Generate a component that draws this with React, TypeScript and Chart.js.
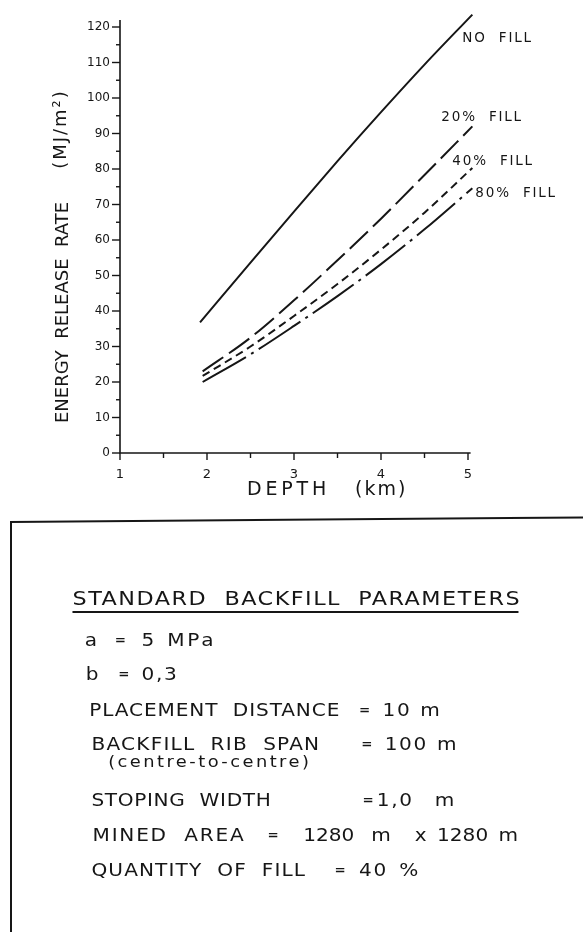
import { useEffect, useRef } from "react";
import { Chart, registerables } from "chart.js";

Chart.register(...registerables);

const INK = "#161616";
const FONT = "'DejaVu Sans', 'Liberation Sans', sans-serif";

// Depth (km) sampled along each curve
const depthNoFill = [1.92, 2.5, 3, 3.5, 4, 4.5, 5.05];
const depthFill = [1.95, 2.5, 3, 3.5, 4, 4.5, 5.05];

// Energy release rate (MJ/m²)
const noFill = [36.8, 53.6, 68, 82.2, 96, 109.4, 123.5];
const fill20 = [23, 32.5, 43, 54.3, 66, 78.3, 92];
const fill40 = [21.7, 30, 38.6, 47.6, 57.3, 67.7, 80.3];
const fill80 = [20, 27.8, 35.8, 44.2, 53.2, 63, 74.6];

const seriesNames = ["NO  FILL", "20%  FILL", "40%  FILL", "80%  FILL"];

const xTickLabels = ["1", "2", "3", "4", "5"];
const yTickStep = 10;

const toPoints = (xs: number[], ys: number[]) => xs.map((x, i) => ({ x, y: ys[i] }));

// where each curve's caption sits relative to its last point
const captionOffsets = [
  { dx: -10, dy: 24 },
  { dx: -31, dy: -9 },
  { dx: -20, dy: -6 },
  { dx: 3, dy: 5 },
];

const decorations = {
  id: "decorations",
  afterDraw(chart: any) {
    const { ctx, scales } = chart;
    const x = scales.x;
    const y = scales.y;
    const x0 = x.getPixelForValue(1);
    const y0 = y.getPixelForValue(0);
    ctx.save();
    ctx.strokeStyle = INK;
    ctx.fillStyle = INK;
    ctx.lineWidth = 1.6;
    ctx.lineCap = "butt";

    // axis lines
    ctx.beginPath();
    ctx.moveTo(x0, y.getPixelForValue(122));
    ctx.lineTo(x0, y0);
    ctx.lineTo(x.getPixelForValue(5.03), y0);
    ctx.stroke();

    // y tick marks: long at labelled values, short in between
    ctx.lineWidth = 1.4;
    for (let v = 0; v <= 120; v += yTickStep / 2) {
      const p = y.getPixelForValue(v);
      const len = v % yTickStep === 0 ? 8 : 4;
      ctx.beginPath();
      ctx.moveTo(x0 - len, p);
      ctx.lineTo(x0, p);
      ctx.stroke();
    }
    // x tick marks hang below the axis
    for (let d = 1; d <= 5.001; d += 0.5) {
      const p = x.getPixelForValue(d);
      const len = Math.abs(d - Math.round(d)) < 1e-6 ? 7 : 5;
      ctx.beginPath();
      ctx.moveTo(p, y0);
      ctx.lineTo(p, y0 + len);
      ctx.stroke();
    }

    // axis titles
    ctx.textBaseline = "middle";
    ctx.font = `18px ${FONT}`;
    (ctx as any).letterSpacing = "0px";
    ctx.save();
    ctx.translate(63, 423);
    ctx.rotate(-Math.PI / 2);
    ctx.textAlign = "left";
    ctx.fillText("ENERGY  RELEASE  RATE", 0, 0);
    ctx.restore();
    ctx.save();
    (ctx as any).letterSpacing = "2px";
    ctx.translate(61, 129);
    ctx.rotate(-Math.PI / 2);
    ctx.textAlign = "center";
    ctx.fillText("(MJ/m²)", 0, 0);
    ctx.restore();

    ctx.textAlign = "left";
    ctx.textBaseline = "alphabetic";
    ctx.font = `19px ${FONT}`;
    (ctx as any).letterSpacing = "3.8px";
    ctx.fillText("DEPTH", 247, 495);
    (ctx as any).letterSpacing = "2px";
    ctx.fillText("(km)", 355, 495);

    // curve captions
    ctx.font = `13.5px ${FONT}`;
    (ctx as any).letterSpacing = "1.8px";
    ctx.textBaseline = "middle";
    chart.data.datasets.forEach((ds: any, i: number) => {
      const last = ds.data[ds.data.length - 1];
      const px = x.getPixelForValue(last.x) + captionOffsets[i].dx;
      const py = y.getPixelForValue(last.y) + captionOffsets[i].dy;
      ctx.fillText(seriesNames[i], px, py);
    });
    ctx.restore();
  },
};

function EnergyChart() {
  const ref = useRef<HTMLCanvasElement | null>(null);
  useEffect(() => {
    if (!ref.current) return;
    const common = {
      borderColor: INK,
      borderWidth: 2,
      pointRadius: 0,
      fill: false,
      clip: false as any,
      cubicInterpolationMode: "monotone" as const,
    };
    const chart = new Chart(ref.current, {
      type: "line",
      data: {
        datasets: [
          { ...common, label: seriesNames[0], data: toPoints(depthNoFill, noFill) },
          { ...common, label: seriesNames[1], data: toPoints(depthFill, fill20), borderDash: [25, 7] },
          { ...common, label: seriesNames[2], data: toPoints(depthFill, fill40), borderDash: [8, 5] },
          { ...common, label: seriesNames[3], data: toPoints(depthFill, fill80), borderDash: [50, 6, 3, 6] },
        ],
      },
      options: {
        responsive: false,
        animation: false,
        events: [],
        layout: { padding: { top: 27, right: 115, bottom: 0, left: 0 } },
        plugins: { legend: { display: false }, tooltip: { enabled: false } },
        scales: {
          x: {
            type: "linear",
            min: 1,
            max: 5,
            afterFit: (s: any) => {
              s.height = 62;
            },
            grid: { display: false, drawTicks: false },
            border: { display: false },
            ticks: {
              stepSize: 1,
              padding: 14,
              color: INK,
              font: { family: FONT, size: 13 },
              callback: (v: any) => xTickLabels[Number(v) - 1] ?? "",
            },
          },
          y: {
            type: "linear",
            min: 0,
            max: 120,
            afterFit: (s: any) => {
              s.width = 120;
            },
            grid: { display: false, drawTicks: false },
            border: { display: false },
            ticks: {
              stepSize: yTickStep,
              padding: 10,
              color: INK,
              font: { family: FONT, size: 12 },
            },
          },
        },
      },
      plugins: [decorations],
    });
    return () => chart.destroy();
  }, []);
  return (
    <canvas
      ref={ref}
      width={583}
      height={515}
      style={{ position: "absolute", left: 0, top: 0, width: 583, height: 515 }}
    />
  );
}

type Piece = { x: number; text: string; size?: number; spacing?: number; dy?: number; bold?: boolean };

// the stencil lettering is wider than the installed fonts, so the
// parameter list is set in a layer stretched horizontally by this factor
const STRETCH = 1.115;

// the lettering's equals sign is short and heavy
const eq = (x: number): Piece => ({ x, text: "=", size: 12, spacing: 0, dy: -1.5, bold: true });

function Line({ baseline, pieces }: { baseline: number; pieces: Piece[] }) {
  return (
    <>
      {pieces.map((p, i) => {
        const size = p.size ?? 18;
        return (
          <span
            key={i}
            style={{
              position: "absolute",
              left: p.x,
              top: baseline + (p.dy ?? 0) - size * 0.846,
              fontSize: size,
              fontWeight: p.bold ? 700 : 400,
              lineHeight: `${size}px`,
              letterSpacing: p.spacing ?? 1.5,
              whiteSpace: "pre",
              color: INK,
            }}
          >
            {p.text}
          </span>
        );
      })}
    </>
  );
}

function ParametersBox() {
  return (
    <>
      <div
        style={{
          position: "absolute",
          left: 10,
          top: 521,
          width: 2,
          height: 420,
          background: INK,
        }}
      />
      <div
        style={{
          position: "absolute",
          left: 10,
          top: 521,
          width: 580,
          height: 2,
          background: INK,
          transform: "rotate(-0.45deg)",
          transformOrigin: "0 0",
        }}
      />
      <div
        style={{
          position: "absolute",
          left: 0,
          top: 0,
          width: 583,
          height: 932,
          fontFamily: FONT,
          transform: `scaleX(${STRETCH})`,
          transformOrigin: "0 0",
        }}
      >
        <Line baseline={605} pieces={[{ x: 65, text: "STANDARD  BACKFILL  PARAMETERS", size: 20, spacing: 1.35 }]} />
        <div style={{ position: "absolute", left: 65, top: 611, width: 400, height: 2, background: INK }} />
        <Line
          baseline={646}
          pieces={[
            { x: 76, text: "a" },
            eq(103),
            { x: 127, text: "5" },
            { x: 150, text: "MPa", spacing: 2.5 },
          ]}
        />
        <Line
          baseline={680}
          pieces={[
            { x: 77, text: "b" },
            eq(106),
            { x: 127, text: "0,3", spacing: 1.5 },
          ]}
        />
        <Line
          baseline={716}
          pieces={[
            { x: 80, text: "PLACEMENT  DISTANCE", spacing: 0.8 },
            eq(322),
            { x: 343, text: "10" },
            { x: 377, text: "m" },
          ]}
        />
        <Line
          baseline={750}
          pieces={[
            { x: 82, text: "BACKFILL  RIB  SPAN", spacing: 1.1 },
            eq(324),
            { x: 345, text: "100" },
            { x: 392, text: "m" },
          ]}
        />
        <Line baseline={768} pieces={[{ x: 97, text: "(centre-to-centre)", size: 16, spacing: 2.2 }]} />
        <Line
          baseline={806}
          pieces={[
            { x: 82, text: "STOPING  WIDTH", spacing: 0.6 },
            eq(325),
            { x: 338, text: "1,0" },
            { x: 390, text: "m" },
          ]}
        />
        <Line
          baseline={841}
          pieces={[
            { x: 83, text: "MINED  AREA", spacing: 1.6 },
            eq(240),
            { x: 272, text: "1280", spacing: 0 },
            { x: 333, text: "m" },
            { x: 372, text: "x" },
            { x: 392, text: "1280", spacing: 0 },
            { x: 447, text: "m" },
          ]}
        />
        <Line
          baseline={876}
          pieces={[
            { x: 82, text: "QUANTITY  OF  FILL", spacing: 1.0 },
            eq(300),
            { x: 322, text: "40" },
            { x: 358, text: "%" },
          ]}
        />
      </div>
    </>
  );
}

export default function App() {
  return (
    <div
      style={{
        position: "absolute",
        left: 0,
        top: 0,
        width: 583,
        height: 932,
        overflow: "hidden",
        background: "#fff",
      }}
    >
      <EnergyChart />
      <ParametersBox />
    </div>
  );
}
